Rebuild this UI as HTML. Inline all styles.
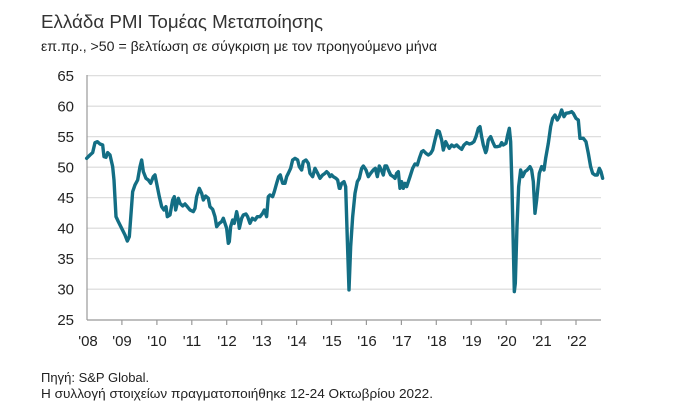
<!DOCTYPE html>
<html><head><meta charset="utf-8"><style>
body{margin:0;background:#fff;width:700px;height:415px;overflow:hidden;font-family:"Liberation Sans",Arial,sans-serif;color:#222}
</style></head><body>
<svg width="700" height="415" xmlns="http://www.w3.org/2000/svg" font-family="Liberation Sans, Arial, sans-serif">
<text x="41" y="28" font-size="18.5" fill="#333" textLength="282" lengthAdjust="spacingAndGlyphs">Ελλάδα PMI Τομέας Μεταποίησης</text>
<text x="41" y="51" font-size="13.5" fill="#222" textLength="396" lengthAdjust="spacingAndGlyphs">επ.πρ., &gt;50 = βελτίωση σε σύγκριση με τον προηγούμενο μήνα</text>
<g stroke="#d9d9d9" stroke-width="1.2">
<line x1="87" x2="601" y1="75.7" y2="75.7"/><line x1="87" x2="601" y1="106.2" y2="106.2"/><line x1="87" x2="601" y1="136.7" y2="136.7"/><line x1="87" x2="601" y1="167.2" y2="167.2"/><line x1="87" x2="601" y1="197.7" y2="197.7"/><line x1="87" x2="601" y1="228.2" y2="228.2"/><line x1="87" x2="601" y1="258.7" y2="258.7"/><line x1="87" x2="601" y1="289.2" y2="289.2"/>
</g>
<g stroke="#999" stroke-width="1.2">
<line x1="87" x2="87" y1="75" y2="320"/><line x1="87" x2="601" y1="320" y2="320"/>
<line x1="121.9" x2="121.9" y1="320" y2="325"/><line x1="156.9" x2="156.9" y1="320" y2="325"/><line x1="191.8" x2="191.8" y1="320" y2="325"/><line x1="226.7" x2="226.7" y1="320" y2="325"/><line x1="261.7" x2="261.7" y1="320" y2="325"/><line x1="296.6" x2="296.6" y1="320" y2="325"/><line x1="331.5" x2="331.5" y1="320" y2="325"/><line x1="366.4" x2="366.4" y1="320" y2="325"/><line x1="401.4" x2="401.4" y1="320" y2="325"/><line x1="436.3" x2="436.3" y1="320" y2="325"/><line x1="471.2" x2="471.2" y1="320" y2="325"/><line x1="506.2" x2="506.2" y1="320" y2="325"/><line x1="541.1" x2="541.1" y1="320" y2="325"/><line x1="576" x2="576" y1="320" y2="325"/>
</g>
<g font-size="15" fill="#222" text-anchor="end">
<text x="74" y="81">65</text><text x="74" y="111.5">60</text><text x="74" y="142">55</text><text x="74" y="172.5">50</text><text x="74" y="203">45</text><text x="74" y="233.5">40</text><text x="74" y="264">35</text><text x="74" y="294.5">30</text><text x="74" y="325">25</text>
</g>
<g font-size="15" fill="#222" text-anchor="middle">
<text x="88" y="346">'08</text><text x="122" y="346">'09</text><text x="157" y="346">'10</text><text x="192" y="346">'11</text><text x="227" y="346">'12</text><text x="262" y="346">'13</text><text x="297" y="346">'14</text><text x="332" y="346">'15</text><text x="367" y="346">'16</text><text x="402" y="346">'17</text><text x="437" y="346">'18</text><text x="472" y="346">'19</text><text x="507" y="346">'20</text><text x="542" y="346">'21</text><text x="577" y="346">'22</text>
</g>
<g fill="none" stroke="#136e84" stroke-width="3.4" stroke-linejoin="round" stroke-linecap="round">
<polyline vector-effect="non-scaling-stroke" transform="translate(40,60) scale(0.3333)" points="140,295 150,285 158,278 165,248 172,245 180,252 188,255 192,290 198,292 203,278 210,285 218,320 222,360 228,470 235,485 245,505 255,525 262,543 268,530 278,395 285,375 293,360 300,320 305,300 310,335 318,355 325,360 332,370 340,350 345,345 350,370 358,410 365,440 372,450 378,440 382,470 390,465 398,420 403,410 407,450 415,415 420,430 428,438 435,432 442,440 450,450 460,455 465,445 470,410 478,385 485,400 490,420 497,408 505,415 510,440 518,448 525,470 530,500 538,490 545,485 550,475 555,490 560,505 565,550 568,545 572,500 578,480 583,490 590,455 595,480 598,505 605,475 610,465 618,462 623,470 630,490 637,475 645,480 652,470 660,470 668,460 673,450 680,470 685,410 690,405 698,410 703,395 710,370 716,350 721,345 728,370 735,370 740,350 745,340 752,325 758,300 765,295 773,300 778,320 785,330 790,305 798,300 805,310 810,340 818,350 825,325 833,340 840,355 848,345 855,340 860,335 865,340 870,350 875,345 880,350 888,355 893,360 898,385 900,385"/>
<polyline vector-effect="non-scaling-stroke" transform="translate(340,60) scale(0.3333)" points="0,385 5,370 12,365 17,380 22,540 27,690 32,560 38,470 45,400 52,365 58,355 65,325 70,318 78,330 85,350 92,340 100,330 106,325 112,350 118,318 124,330 130,345 135,318 140,318 145,330 152,345 160,350 165,355 170,340 175,335 180,385 185,365 190,385 195,370 200,380 210,350 218,325 225,312 232,315 238,295 245,275 250,272 258,280 265,285 272,280 278,270 285,240 292,212 298,215 305,240 310,270 317,245 322,255 328,265 335,255 342,260 350,255 357,262 365,268 372,255 380,248 388,252 395,250 402,245 408,230 415,205 420,200 425,230 430,255 437,278 440,270 445,240 452,230 458,245 465,260 472,260 480,258 485,248 490,255 498,250 503,225 508,205 512,245 516,380 520,560 523,695 526,670 531,500 536,380 542,330 548,350 555,335 562,330 570,320 575,330 580,365 585,460 590,420 598,340 605,320 612,330 617,295 625,250 632,200 638,175 645,165 652,180 658,170 665,150 672,170 678,160 688,158 695,155 700,160 708,175 715,180 720,235 730,235 738,245 745,280 752,320 758,340 765,345 772,345 778,325 783,335 788,355"/>
</g>
<text x="41" y="382" font-size="13" fill="#222">Πηγή: S&amp;P Global.</text>
<text x="41" y="398" font-size="13" fill="#222" textLength="392" lengthAdjust="spacingAndGlyphs">Η συλλογή στοιχείων πραγματοποιήθηκε 12-24 Οκτωβρίου 2022.</text>
</svg>
</body></html>
